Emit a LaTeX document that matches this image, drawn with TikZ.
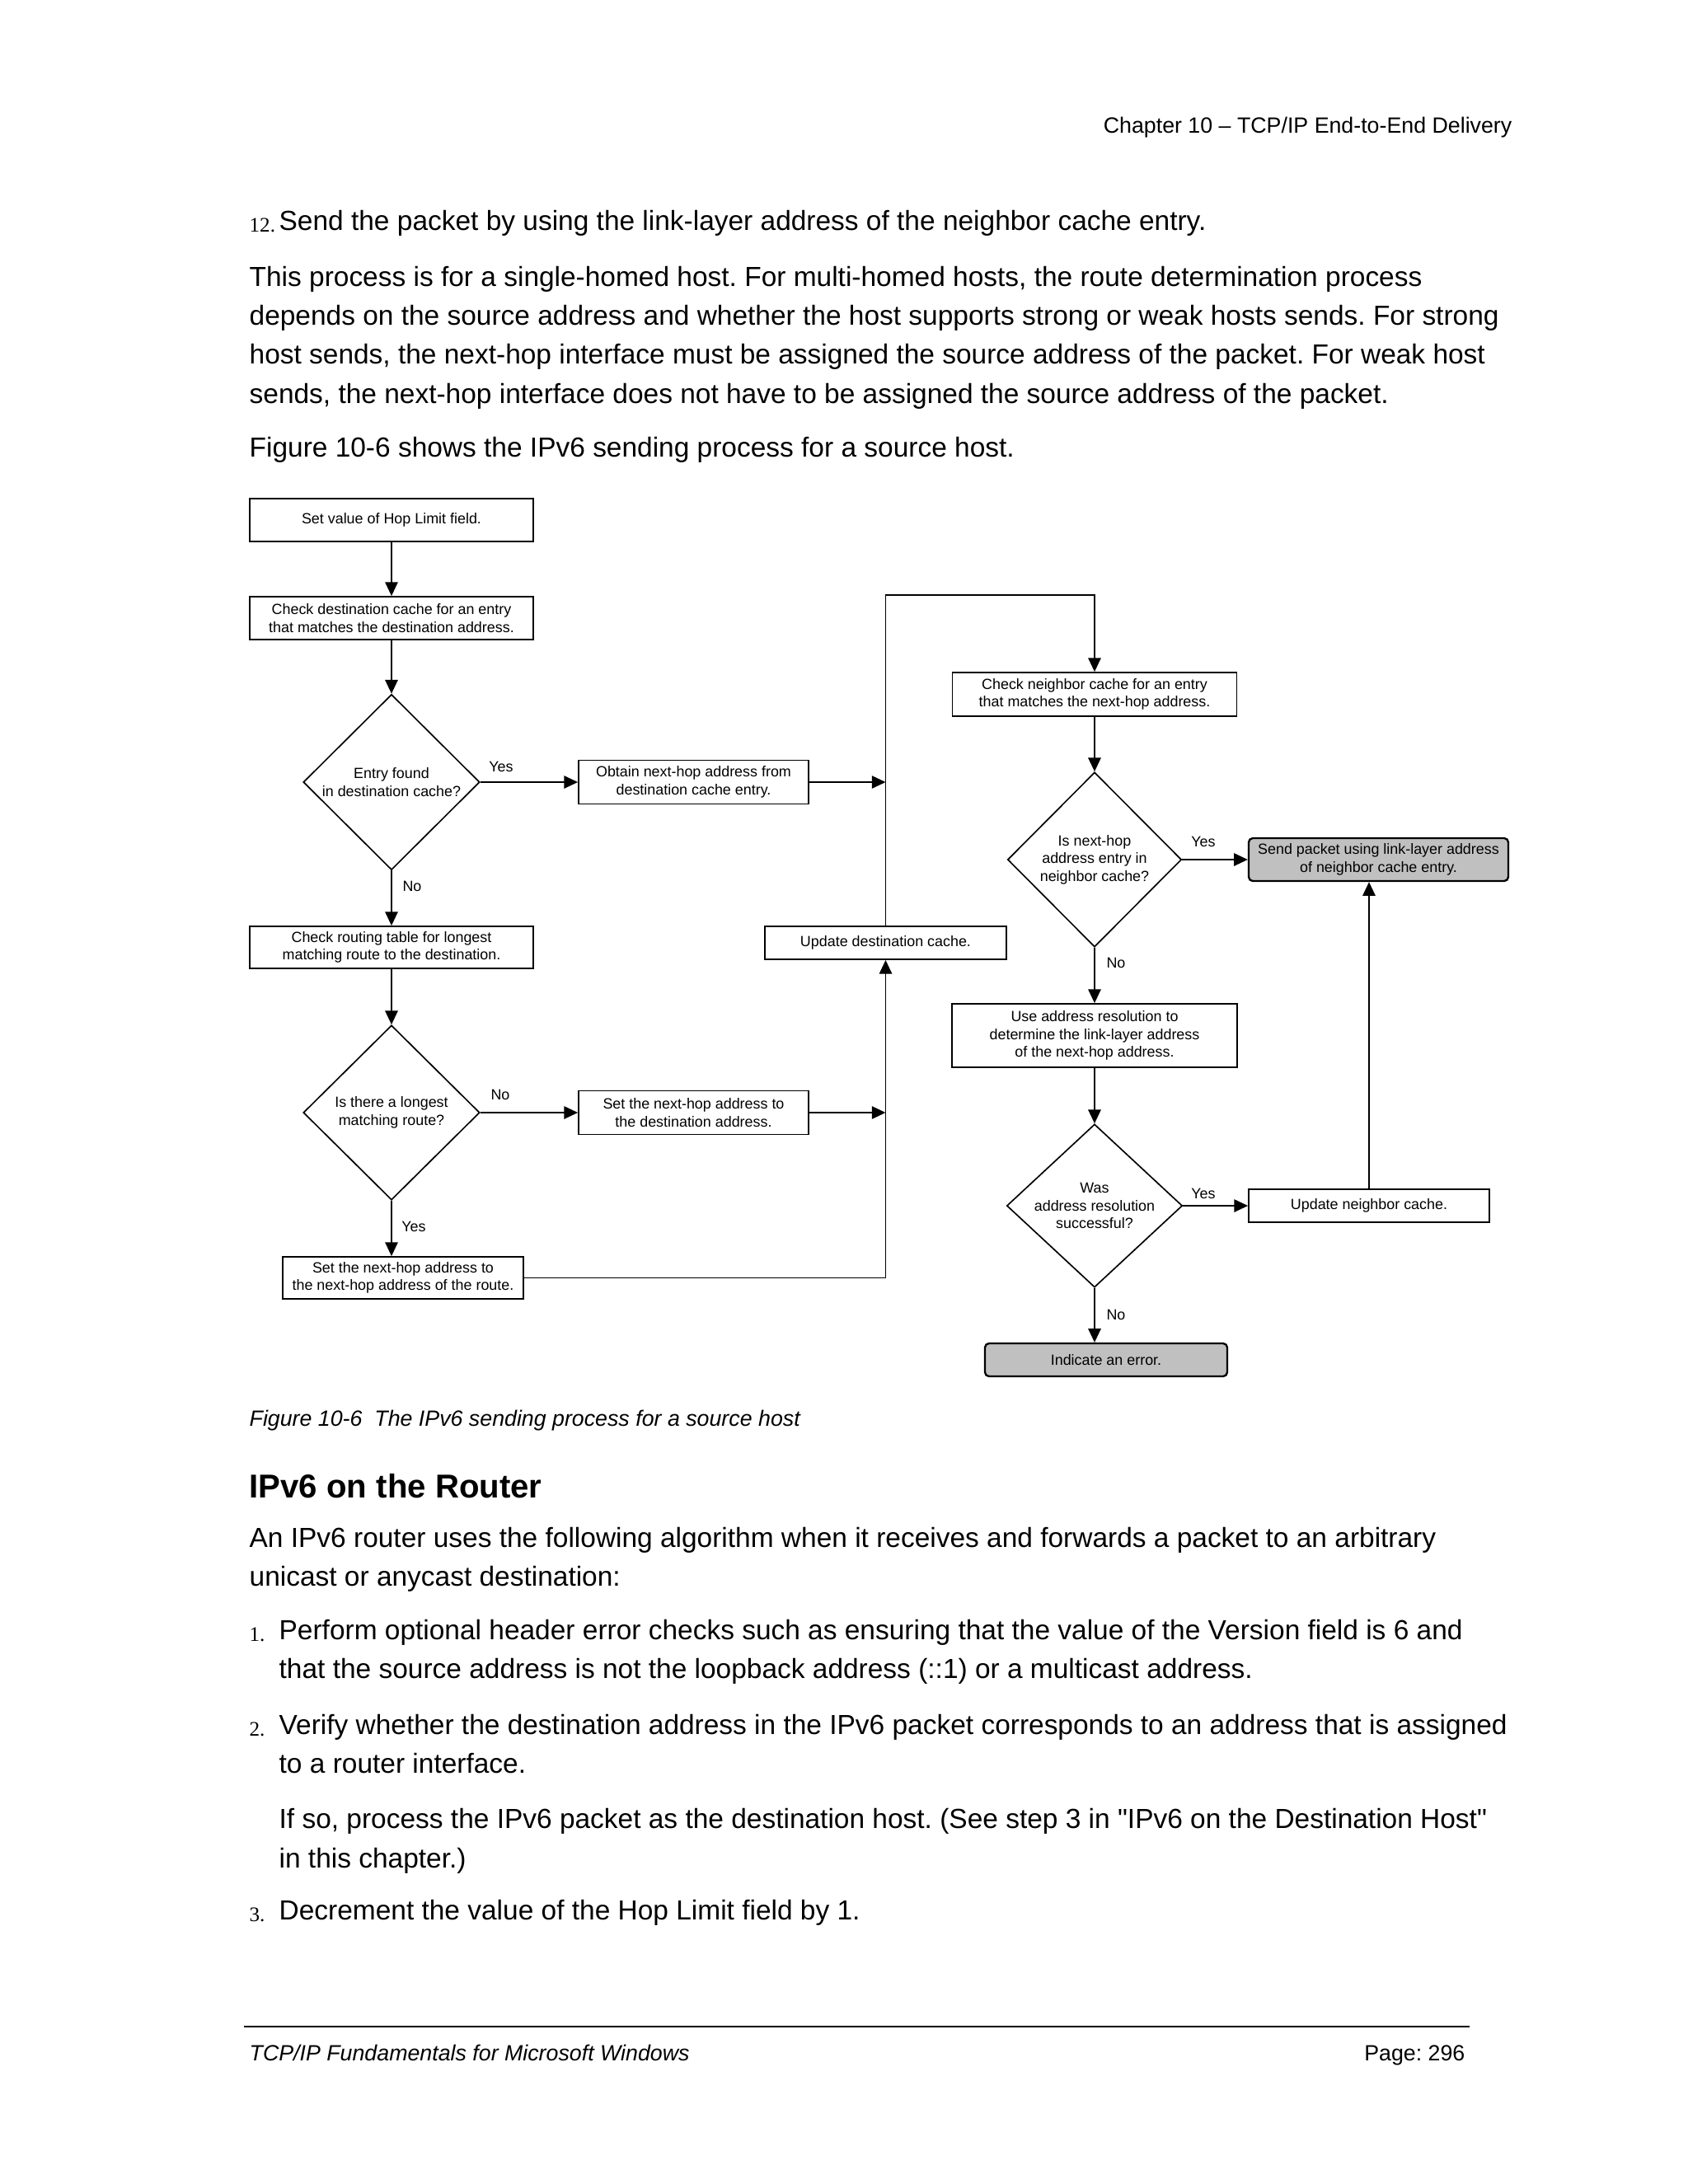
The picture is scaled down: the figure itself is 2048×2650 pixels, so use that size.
\documentclass[tikz,border=0pt]{standalone}
\usepackage{fontspec}
\setmainfont{Liberation Sans}
\newfontfamily\nomap{Liberation Sans}
\newfontfamily\serifnum{Liberation Serif}
\usetikzlibrary{shapes.geometric,arrows.meta}
\newdimen\U \U=0.29883pt
\definecolor{boxgray}{RGB}{192,192,192}
\newcommand{\sq}{{\nomap"}}
\tikzset{
  fc/.style={font=\fontsize{5.35}{6.4}\selectfont},
  pbox/.style={draw, line width=0.55pt, fc, align=center, inner sep=0pt},
  gbox/.style={pbox, fill=boxgray, rounded corners=1.5pt, line width=0.7pt},
  dia/.style={diamond, draw, line width=0.5pt, inner sep=0pt},
  dtext/.style={fc, align=center, inner sep=0pt},
  arr/.style={draw, line width=0.5pt, -{Triangle[length=5pt,width=4.6pt]}},
  ln/.style={draw, line width=0.5pt},
  lbl/.style={fc, inner sep=0pt},
  txt/.style={font=\fontsize{10}{12}\selectfont, anchor=mid west, inner sep=0pt},
  num/.style={font=\serifnum\fontsize{7.5}{9}\selectfont, anchor=mid west, inner sep=0pt},
}
\frenchspacing
\begin{document}
\frenchspacing
\begin{tikzpicture}[x=0.29883pt, y=-0.29883pt]
\fill[white] (0,0) rectangle (2048,2650);
\useasboundingbox (0,0) rectangle (2048,2650);

% ---------- page text ----------
\node[font=\fontsize{8}{10}\selectfont, anchor=mid east, inner sep=0pt] (hdr) at (1835,153) {Chapter 10 – TCP/IP End-to-End Delivery};
\node[num] (n12) at (302,273) {12.};
\node[txt] (t12) at (338,271) {Send the packet by using the link-layer address of the neighbor cache entry.};
\node[txt] (p1) at (302,339) {This process is for a single-homed host. For multi-homed hosts, the route determination process};
\node[txt] (p2) at (302,386) {depends on the source address and whether the host supports strong or weak hosts sends. For strong};
\node[txt] (p3) at (302,433) {host sends, the next-hop interface must be assigned the source address of the packet. For weak host};
\node[txt] (p4) at (302,481) {sends, the next-hop interface does not have to be assigned the source address of the packet.};
\node[txt] (p5) at (302,546) {Figure 10-6 shows the IPv6 sending process for a source host.};

% ---------- flowchart ----------
\node[pbox, minimum width=344\U, minimum height=52\U] (b1) at (475,631) {Set value of Hop Limit field.};
\node[pbox, minimum width=344\U, minimum height=52\U] (b2) at (475,750) {Check destination cache for an entry\\that matches the destination address.};
\node[dia, minimum width=214\U, minimum height=213\U] (d1) at (475,949) {};
\node[dtext] (d1t) at (d1) {Entry found\\in destination cache?};
\node[pbox, minimum width=279\U, minimum height=53\U] (bo) at (841.5,949) {Obtain next-hop address from\\destination cache entry.};
\node[pbox, minimum width=344\U, minimum height=51\U] (b3) at (475,1149.5) {Check routing table for longest\\matching route to the destination.};
\node[dia, minimum width=214\U, minimum height=212\U] (d2) at (475,1350) {};
\node[dtext] (d2t) at (d2) {Is there a longest\\matching route?};
\node[pbox, minimum width=279\U, minimum height=53\U] (b4) at (841.5,1350) {Set the next-hop address to\\the destination address.};
\node[pbox, minimum width=292\U, minimum height=51\U] (b5) at (489,1550.5) {Set the next-hop address to\\the next-hop address of the route.};
\node[pbox, minimum width=293\U, minimum height=40\U] (ud) at (1074.5,1144) {Update destination cache.};
\node[pbox, minimum width=345\U, minimum height=53\U] (b6) at (1328,842.5) {Check neighbor cache for an entry\\that matches the next-hop address.};
\node[dia, minimum width=211\U, minimum height=212\U] (d3) at (1328,1043) {};
\node[dtext] (d3t) at (d3) {Is next-hop\\address entry in\\neighbor cache?};
\node[gbox, minimum width=315\U, minimum height=52\U] (b7) at (1672.5,1043) {Send packet using link-layer address\\of neighbor cache entry.};
\node[pbox, minimum width=346\U, minimum height=77\U] (b8) at (1328,1256.5) {Use address resolution to\\determine the link-layer address\\of the next-hop address.};
\node[dia, minimum width=213\U, minimum height=198\U] (d4) at (1328,1463) {};
\node[dtext] (d4t) at (d4) {Was\\address resolution\\successful?};
\node[pbox, minimum width=292\U, minimum height=40\U] (b9) at (1661,1463) {Update neighbor cache.};
\node[gbox, minimum width=294\U, minimum height=40\U] (b10) at (1342,1650) {Indicate an error.};

\coordinate (tc) at (1074.5,722);

\draw[arr] (b1.south) -- (b2.north);
\draw[arr] (b2.south) -- (d1.north);
\draw[arr] (d1.east) -- (bo.west);
\draw[arr] (bo.east) -- (bo.east -| ud.north);
\draw[arr] (d1.south) -- (b3.north);
\draw[arr] (b3.south) -- (d2.north);
\draw[arr] (d2.east) -- (b4.west);
\draw[arr] (b4.east) -- (b4.east -| ud.south);
\draw[arr] (d2.south) -- (d2.south |- b5.north);
\draw[arr] (b5.east) -- (b5.east -| ud.south) -- (ud.south);
\draw[arr] (ud.north) -- (tc) -| (b6.north);
\draw[arr] (b6.south) -- (d3.north);
\draw[arr] (d3.east) -- (b7.west);
\draw[arr] (d3.south) -- (b8.north);
\draw[arr] (b8.south) -- (d4.north);
\draw[arr] (d4.east) -- (b9.west);
\draw[arr] (b9.north) -- (b9.north |- b7.south);
\draw[arr] (d4.south) -- (d4.south |- b10.north);

\node[lbl] (y1) at (608,930) {Yes};
\node[lbl] (n1) at (500,1075) {No};
\node[lbl] (n2) at (607,1328) {No};
\node[lbl] (y2) at (502,1488) {Yes};
\node[lbl] (y3) at (1460,1021) {Yes};
\node[lbl] (n3) at (1354,1168) {No};
\node[lbl] (y4) at (1460,1448) {Yes};
\node[lbl] (n4) at (1354,1595) {No};

% ---------- lower text ----------
\node[font=\itshape\fontsize{8}{10}\selectfont, anchor=mid west, inner sep=0pt] (cap) at (302,1722) {Figure 10-6~~The IPv6 sending process for a source host};
\node[font=\bfseries\fontsize{12}{14}\selectfont, anchor=mid west, inner sep=0pt] (h2) at (302,1809) {IPv6 on the Router};
\node[txt] (q1) at (302,1869) {An IPv6 router uses the following algorithm when it receives and forwards a packet to an arbitrary};
\node[txt] (q2) at (302,1916) {unicast or anycast destination:};
\node[num] (m1) at (302,1983) {1.};
\node[txt] (q3) at (338,1981) {Perform optional header error checks such as ensuring that the value of the Version field is 6 and};
\node[txt] (q4) at (338,2028) {that the source address is not the loopback address (::1) or a multicast address.};
\node[num] (m2) at (302,2098) {2.};
\node[txt] (q5) at (338,2096) {Verify whether the destination address in the IPv6 packet corresponds to an address that is assigned};
\node[txt] (q6) at (338,2143) {to a router interface.};
\node[txt] (q7) at (338,2210) {If so, process the IPv6 packet as the destination host. (See step 3 in \sq IPv6 on the Destination Host\sq};
\node[txt] (q8) at (338,2258) {in this chapter.)};
\node[num] (m3) at (302,2323) {3.};
\node[txt] (q9) at (338,2321) {Decrement the value of the Hop Limit field by 1.};

\coordinate (fl) at (296,2459);
\coordinate (fr) at (1783,2459);
\draw[line width=0.8pt] (fl) -- (fr);
\node[font=\itshape\fontsize{8}{10}\selectfont, anchor=mid west, inner sep=0pt] (ft) at (302,2492) {TCP/IP Fundamentals for Microsoft Windows};
\node[font=\fontsize{8}{10}\selectfont, anchor=mid east, inner sep=0pt] (pg) at (1778,2492) {Page: 296};
\end{tikzpicture}
\end{document}
